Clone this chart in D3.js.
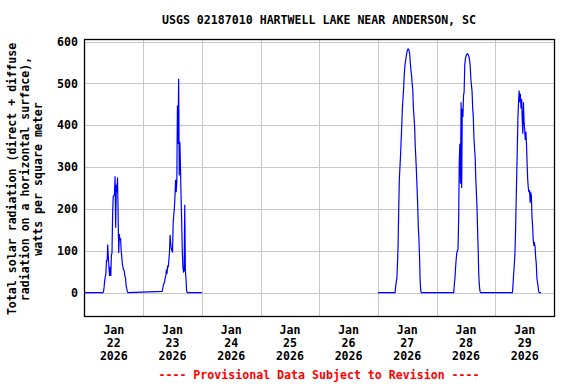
<!DOCTYPE html>
<html>
<head>
<meta charset="utf-8">
<script src="https://cdn.jsdelivr.net/npm/d3@7"></script>
<style>
  body { margin: 0; background: #fff; }
  text { font-family: "DejaVu Sans Mono", "Liberation Mono", monospace; font-weight: bold; font-size: 11.6px; }
</style>
</head>
<body>
<div id="chart"></div>
<script>
// 15-minute readings for each day, starting at the given hour (local time)
var dayDates = ["2026-01-22", "2026-01-23", "2026-01-27", "2026-01-28", "2026-01-29"];
var dayStartHours = [7.5, 7.75, 7.0, 7.0, 7.0];

var jan22 = [0, 2, 12, 28, 38, 45, 78, 75, 115, 85, 60, 40, 62, 40, 90, 95, 188, 230, 232, 235,
             278, 155, 258, 240, 275, 185, 95, 140, 125, 130, 100, 85, 68, 60, 55, 52, 40, 36, 18, 10, 3, 0];
var jan23 = [3, 10, 18, 22, 26, 35, 40, 55, 45, 65, 60, 78, 95, 138, 118, 105, 100, 98, 166, 185,
             202, 230, 270, 240, 265, 447, 355, 511, 280, 360, 300, 225, 166, 98, 60, 50, 52, 210, 52, 34, 5, 0];
var jan27 = [0, 15, 25, 34, 70, 114, 200, 270, 300, 328, 365, 400, 440, 465, 487, 520, 540, 552, 562, 571,
             578, 582, 582, 578, 570, 548, 532, 519, 500, 485, 440, 420, 398, 350, 322, 288, 250, 210, 160, 130, 90, 30, 5, 0];
var jan28 = [0, 20, 35, 60, 80, 95, 100, 105, 170, 310, 356, 260, 455, 250, 440, 420, 471, 480, 543, 558,
             565, 569, 571, 570, 568, 563, 555, 540, 510, 495, 480, 440, 420, 370, 345, 325, 275, 240, 205, 150, 100, 40, 15, 3, 0];
var jan29 = [0, 20, 45, 65, 90, 140, 210, 280, 347, 420, 455, 483, 455, 475, 440, 463, 415, 380, 455, 410,
             390, 365, 385, 355, 310, 270, 250, 240, 245, 215, 240, 230, 180, 160, 125, 115, 118, 110, 85, 70, 35, 25, 15, 3, 0];
var dayValues = [jan22, jan23, jan27, jan28, jan29];

// the record has a gap between Jan 24 and Jan 27
var segmentStarts = ["2026-01-22T00:00", "2026-01-27T00:00"];
var segmentEnds = ["2026-01-24T00:00", "2026-01-29T18:45"];
var segmentDays = [[0, 1], [2, 3, 4]];

var yTicks = [0, 100, 200, 300, 400, 500, 600];
var xDays = ["2026-01-22", "2026-01-23", "2026-01-24", "2026-01-25", "2026-01-26", "2026-01-27", "2026-01-28", "2026-01-29"];
var xMonthLabel = "Jan";
var xYearLabel = "2026";

var title = "USGS 02187010 HARTWELL LAKE NEAR ANDERSON, SC";
var yLabel = ["Total solar radiation (direct + diffuse", "radiation on a horizontal surface),", "watts per square meter"];
var footer = "---- Provisional Data Subject to Revision ----";

var parseDay = d3.utcParse("%Y-%m-%d");
var parseTime = d3.utcParse("%Y-%m-%dT%H:%M");
var hour = 3600 * 1000;

// build one array of points per segment
var segments = segmentDays.map(function(days, s) {
  var pts = [{t: parseTime(segmentStarts[s]), v: 0}];
  days.forEach(function(di) {
    var base = parseDay(dayDates[di]).getTime();
    dayValues[di].forEach(function(v, i) {
      pts.push({t: new Date(base + (dayStartHours[di] + i * 0.25) * hour), v: v});
    });
  });
  pts.push({t: parseTime(segmentEnds[s]), v: 0});
  return pts;
});

var width = 576, height = 384;
var plot = {left: 84.5, right: 554.5, top: 39.5, bottom: 316.5};

var svg = d3.select("#chart")
  .append("svg")
  .attr("width", width)
  .attr("height", height);

var x = d3.scaleUtc()
  .domain([parseDay("2026-01-22"), parseDay("2026-01-30")])
  .range([plot.left, 554]);

var y = d3.scaleLinear()
  .domain([-57, 605])
  .range([plot.bottom, plot.top]);

// gridlines
svg.append("g")
  .selectAll("line")
  .data(yTicks)
  .enter()
  .append("line")
  .attr("x1", plot.left)
  .attr("x2", plot.right)
  .attr("y1", d => Math.round(y(d)) + 0.5)
  .attr("y2", d => Math.round(y(d)) + 0.5)
  .style("stroke", "#c8c8c8")
  .style("stroke-width", 1);

svg.append("g")
  .selectAll("line")
  .data(xDays.slice(1))
  .enter()
  .append("line")
  .attr("x1", d => Math.round(x(parseDay(d))) + 0.5)
  .attr("x2", d => Math.round(x(parseDay(d))) + 0.5)
  .attr("y1", plot.top)
  .attr("y2", plot.bottom)
  .style("stroke", "#c8c8c8")
  .style("stroke-width", 1);

// data line
var line = d3.line()
  .x(d => x(d.t))
  .y(d => y(d.v));

svg.selectAll(".line")
  .data(segments)
  .enter()
  .append("path")
  .attr("class", "line")
  .attr("d", d => line(d))
  .style("fill", "none")
  .style("stroke", "#0000ff")
  .style("stroke-width", 1.2);

// frame
svg.append("rect")
  .attr("x", plot.left)
  .attr("y", plot.top)
  .attr("width", plot.right - plot.left)
  .attr("height", plot.bottom - plot.top)
  .style("fill", "none")
  .style("stroke", "#000")
  .style("stroke-width", 1.3);

// y tick labels
svg.append("g")
  .selectAll("text")
  .data(yTicks)
  .enter()
  .append("text")
  .attr("x", 78)
  .attr("y", d => y(d))
  .attr("dy", "0.36em")
  .style("text-anchor", "end")
  .text(d => d);

// x tick labels at noon of each day
var xl = svg.append("g")
  .selectAll("text")
  .data(xDays)
  .enter()
  .append("text")
  .attr("transform", d => "translate(" + x(new Date(parseDay(d).getTime() + 12 * hour)) + ",0)")
  .style("text-anchor", "middle");
xl.append("tspan").attr("x", 0).attr("y", 334).text(xMonthLabel);
xl.append("tspan").attr("x", 0).attr("y", 347).text(d => d3.utcFormat("%d")(parseDay(d)));
xl.append("tspan").attr("x", 0).attr("y", 360).text(xYearLabel);

// title
svg.append("text")
  .attr("x", 319)
  .attr("y", 24)
  .style("text-anchor", "middle")
  .text(title);

// y axis title, three rotated lines
svg.append("g")
  .selectAll("text")
  .data(yLabel)
  .enter()
  .append("text")
  .attr("transform", (d, i) => "translate(" + (15.5 + i * 13) + ",179) rotate(-90)")
  .style("text-anchor", "middle")
  .text(d => d);

// footer
svg.append("text")
  .attr("x", 319)
  .attr("y", 379)
  .style("text-anchor", "middle")
  .style("fill", "#ff0000")
  .text(footer);
</script>
</body>
</html>
